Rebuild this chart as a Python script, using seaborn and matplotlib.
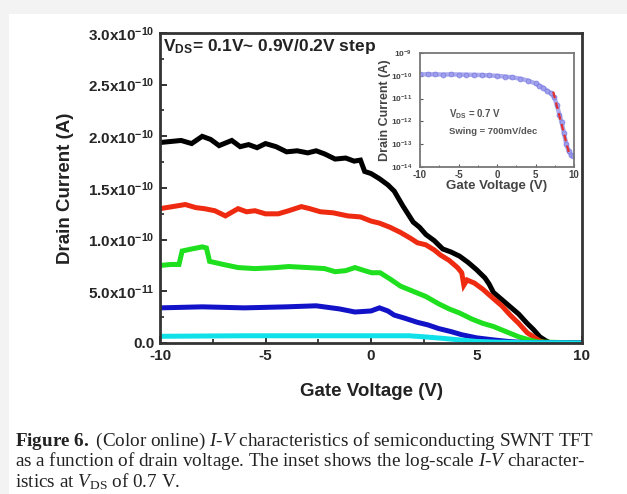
import numpy as np
import pandas as pd
import matplotlib
matplotlib.use("Agg")
import matplotlib.pyplot as plt
import seaborn as sns
from matplotlib.patches import Rectangle
from matplotlib.ticker import MultipleLocator, FixedLocator

# ---------------- data (current in units of 1e-10 A) ----------------
black_v = [-10, -9.5, -9, -8.5, -8, -7.6, -7.2, -6.6, -6.2, -5.8, -5.4, -5.0, -4.5, -4.0, -3.5, -3.0,
           -2.6, -2.2, -1.7, -1.2, -0.8, -0.5, -0.3, 0, 0.4, 0.8, 1.1, 1.5, 2.0, 2.3, 2.6, 3.0, 3.4,
           3.8, 4.2, 4.6, 5.0, 5.4, 5.6, 5.8, 6.2, 6.6, 7.0, 7.4, 7.7, 8.0, 8.3, 8.5, 9.0, 9.5, 10]
black_i = [1.94, 1.95, 1.96, 1.93, 2.00, 1.97, 1.91, 1.96, 1.90, 1.92, 1.89, 1.93, 1.90, 1.85, 1.86, 1.84,
           1.86, 1.83, 1.78, 1.79, 1.76, 1.77, 1.66, 1.64, 1.59, 1.53, 1.47, 1.33, 1.17, 1.12, 1.05, 0.99, 0.91,
           0.88, 0.84, 0.78, 0.71, 0.63, 0.57, 0.49, 0.42, 0.35, 0.28, 0.19, 0.13, 0.06, 0.02, 0.0, 0.0, 0.0, 0.0]

red_v = [-10, -9.4, -8.8, -8.3, -7.9, -7.4, -6.9, -6.3, -5.9, -5.5, -5.0, -4.4, -3.9, -3.3, -2.9, -2.4,
         -1.8, -1.1, -0.5, 0, 0.4, 0.9, 1.4, 1.9, 2.2, 2.6, 3.0, 3.3, 3.7, 4.1, 4.3, 4.4, 4.55, 4.9, 5.3,
         5.8, 6.2, 6.6, 7.0, 7.4, 7.7, 8.0, 8.3, 10]
red_i = [1.30, 1.32, 1.34, 1.31, 1.30, 1.28, 1.23, 1.30, 1.27, 1.28, 1.25, 1.25, 1.28, 1.32, 1.30, 1.27,
         1.26, 1.23, 1.22, 1.18, 1.16, 1.12, 1.07, 1.01, 0.97, 0.95, 0.90, 0.85, 0.80, 0.73, 0.68, 0.56, 0.61,
         0.58, 0.52, 0.43, 0.36, 0.27, 0.19, 0.10, 0.06, 0.02, 0.0, 0.0]

green_v = [-10, -9.5, -9.1, -8.95, -8.5, -8.0, -7.8, -7.65, -7.0, -6.3, -5.5, -4.5, -3.9, -3.0, -2.2,
           -1.7, -1.2, -0.76, -0.3, 0.03, 0.43, 0.9, 1.4, 2.0, 2.6, 3.2, 3.7, 4.2, 4.8, 5.3, 5.8, 6.4,
           7.0, 7.5, 7.9, 10]
green_i = [0.75, 0.76, 0.76, 0.89, 0.91, 0.93, 0.92, 0.79, 0.76, 0.73, 0.72, 0.73, 0.74, 0.73, 0.72,
           0.69, 0.70, 0.73, 0.70, 0.68, 0.68, 0.62, 0.55, 0.50, 0.45, 0.38, 0.33, 0.29, 0.23, 0.19, 0.16, 0.11,
           0.06, 0.03, 0.01, 0.0]

blue_v = [-10, -8, -6, -4, -2.6, -1.5, -0.76, 0.0, 0.4, 0.8, 1.1, 1.6, 2.2, 2.7, 3.2, 3.8, 4.3, 5.0,
          5.8, 6.5, 7.2, 10]
blue_i = [0.34, 0.35, 0.34, 0.35, 0.36, 0.33, 0.30, 0.31, 0.34, 0.31, 0.27, 0.24, 0.20, 0.175, 0.14,
          0.11, 0.08, 0.05, 0.03, 0.015, 0.005, 0.0]

cyan_v = [-10, -6, -2, 0, 1.8, 2.5, 3.4, 4.2, 5.0, 6.0, 7.0, 10]
cyan_i = [0.065, 0.07, 0.07, 0.07, 0.07, 0.06, 0.045, 0.03, 0.015, 0.008, 0.004, 0.0]

# inset (log scale, A)
ins_v = [-10, -9, -8, -7, -6, -5, -4, -3, -2, -1, 0, 1, 2, 3, 4, 5, 5.5, 6, 6.5, 7, 7.4, 7.8, 8.1,
         8.4, 8.7, 9.0, 9.3, 9.6, 9.9]
ins_i = [1.15e-10, 1.17e-10, 1.15e-10, 1.14e-10, 1.15e-10, 1.14e-10, 1.12e-10, 1.10e-10, 1.08e-10,
         1.04e-10, 1.0e-10, 9.3e-11, 8.5e-11, 7.5e-11, 6.2e-11, 4.6e-11, 3.7e-11, 3.0e-11, 2.2e-11,
         1.7e-11, 1.2e-11, 5e-12, 2e-12, 9e-13, 3e-13, 1e-13, 5e-14, 3.5e-14, 3e-14]
fit_v = [7.3, 9.4]
fit_i = [2e-11, 3.5e-14]

ytick_vals = [0.0, 0.5, 1.0, 1.5, 2.0, 2.5, 3.0]
ytick_labels = ["0.0", r"$\mathsf{5.0x10^{-11}}$", r"$\mathsf{1.0x10^{-10}}$", r"$\mathsf{1.5x10^{-10}}$",
                r"$\mathsf{2.0x10^{-10}}$", r"$\mathsf{2.5x10^{-10}}$", r"$\mathsf{3.0x10^{-10}}$"]
xtick_vals = [-10, -5, 0, 5, 10]
ins_ytick_vals = [1e-14, 1e-13, 1e-12, 1e-11, 1e-10, 1e-9]
ins_ytick_labels = [r"$\mathsf{10^{-14}}$", r"$\mathsf{10^{-13}}$", r"$\mathsf{10^{-12}}$",
                    r"$\mathsf{10^{-11}}$", r"$\mathsf{10^{-10}}$", r"$\mathsf{10^{-9}}$"]

series = [("black", black_v, black_i, "#000000"),
          ("red", red_v, red_i, "#ee2a10"),
          ("green", green_v, green_i, "#1ee01e"),
          ("blue", blue_v, blue_i, "#1212c8"),
          ("cyan", cyan_v, cyan_i, "#10e0e8")]

# ---------------- style ----------------
sns.set_style("ticks")
plt.rcParams["font.family"] = ["Liberation Sans", "DejaVu Sans"]
plt.rcParams["mathtext.fontset"] = "custom"
plt.rcParams["mathtext.sf"] = "Liberation Sans:bold"
plt.rcParams["mathtext.rm"] = "Liberation Serif"
plt.rcParams["mathtext.it"] = "Liberation Serif:italic"
plt.rcParams["mathtext.bf"] = "Liberation Serif:bold"

W, H = 627, 494
fig = plt.figure(figsize=(W / 100, H / 100), dpi=100)
fig.patch.set_facecolor("white")
# light grey page border (top and left)
fig.patches.append(Rectangle((0, 1 - 14 / H), 1, 14 / H, transform=fig.transFigure,
                             facecolor="#f3f3f3", edgecolor="none", zorder=0))
fig.patches.append(Rectangle((0, 0), 9 / W, 1, transform=fig.transFigure,
                             facecolor="#f3f3f3", edgecolor="none", zorder=0))

def fx(px):
    return px / W

def fy(py):
    return 1 - py / H

ax = fig.add_axes([fx(160), fy(343), fx(582) - fx(160), fy(33) - fy(343)])
for name, v, i, c in series:
    df = pd.DataFrame({"V": v, "I": np.array(i) * 1e-10})
    sns.lineplot(data=df, x="V", y="I", ax=ax, color=c, lw=3.6, solid_joinstyle="miter",
                 solid_capstyle="butt")
ax.set_xlim(-10, 10)
ax.set_ylim(0, 3e-10)
ax.set_xticks(xtick_vals)
ax.set_xticklabels([str(v) for v in xtick_vals], fontsize=11, fontweight="bold")
ax.set_yticks([v * 1e-10 for v in ytick_vals])
ax.set_yticklabels(ytick_labels, fontsize=11, fontweight="bold")
ax.xaxis.set_minor_locator(MultipleLocator(2.5))
ax.yaxis.set_minor_locator(MultipleLocator(0.25e-10))
ax.tick_params(which="major", direction="in", length=5, width=1.3, color="#222222", pad=4)
ax.tick_params(which="minor", direction="in", length=3, width=1.2, color="#222222")
for s in ax.spines.values():
    s.set_linewidth(2.0)
    s.set_color("#333333")
ax.set_xlabel("Gate Voltage (V)", fontsize=13.5, fontweight="bold", labelpad=15, color="#222222")
ax.set_ylabel("Drain Current (A)", fontsize=13.5, fontweight="bold", labelpad=10, color="#222222")
ax.text(0.008, 0.955, r"$\mathsf{V_{DS}}$= 0.1V~ 0.9V/0.2V step", transform=ax.transAxes,
        fontsize=12.5, fontweight="bold", va="center", ha="left", color="#222222")

# ---------------- inset ----------------
ia = fig.add_axes([fx(420), fy(167), fx(574) - fx(420), fy(53) - fy(167)])
dfi = pd.DataFrame({"V": ins_v, "I": ins_i})
sns.lineplot(data=dfi, x="V", y="I", ax=ia, color="#9c9cec", lw=3.2, alpha=0.85,
             marker="o", markersize=3.5, markeredgewidth=0.6, markeredgecolor="#7a7ae0")
dff = pd.DataFrame({"V": fit_v, "I": fit_i})
sns.lineplot(data=dff, x="V", y="I", ax=ia, color="#e03030", lw=1.6, linestyle=(0, (3, 2)))
ia.set_yscale("log")
ia.set_xlim(-10, 10)
ia.set_ylim(1e-14, 1e-9)
ia.set_xticks(xtick_vals)
ia.set_xticklabels([str(v) for v in xtick_vals], fontsize=7, fontweight="bold", color="#444444")
ia.yaxis.set_major_locator(FixedLocator(ins_ytick_vals))
ia.set_yticklabels(ins_ytick_labels, fontsize=6, color="#444444")
ia.yaxis.set_minor_locator(FixedLocator([]))
ia.xaxis.set_minor_locator(MultipleLocator(2.5))
ia.tick_params(which="major", direction="in", length=2.5, width=0.8, pad=2.0, color="#555555")
ia.tick_params(axis="y", which="major", pad=5.5)
ia.tick_params(which="minor", direction="in", length=1.5, width=0.7, color="#555555")
for s in ia.spines.values():
    s.set_linewidth(1.3)
    s.set_color("#777777")
ia.set_xlabel("Gate Voltage (V)", fontsize=9.5, fontweight="bold", labelpad=0, color="#444444")
ia.set_ylabel("Drain Current (A)", fontsize=9, fontweight="bold", labelpad=0, color="#444444")
ia.text(0.19, 0.46, r"$\mathsf{V_{DS}}$ = 0.7 V", transform=ia.transAxes, fontsize=7,
        fontweight="bold", color="#555555", va="center")
ia.text(0.19, 0.31, "Swing = 700mV/dec", transform=ia.transAxes, fontsize=6.8,
        fontweight="bold", color="#555555", va="center")

# ---------------- caption ----------------
cap = dict(family=["Liberation Serif", "DejaVu Serif"], fontsize=13.8, color="#222222", va="baseline",
           ha="left")
fig.text(fx(15), fy(446), r"$\mathbf{Figure\ 6.}$ (Color online) $I$-$V$ characteristics of semiconducting SWNT TFT", **cap)
fig.text(fx(15), fy(466.5), r"as a function of drain voltage. The inset shows the log-scale $I$-$V$ character-", **cap)
fig.text(fx(15), fy(487), r"istics at $V_{\mathrm{DS}}$ of 0.7 V.", **cap)

fig.savefig("out.png", dpi=100)
